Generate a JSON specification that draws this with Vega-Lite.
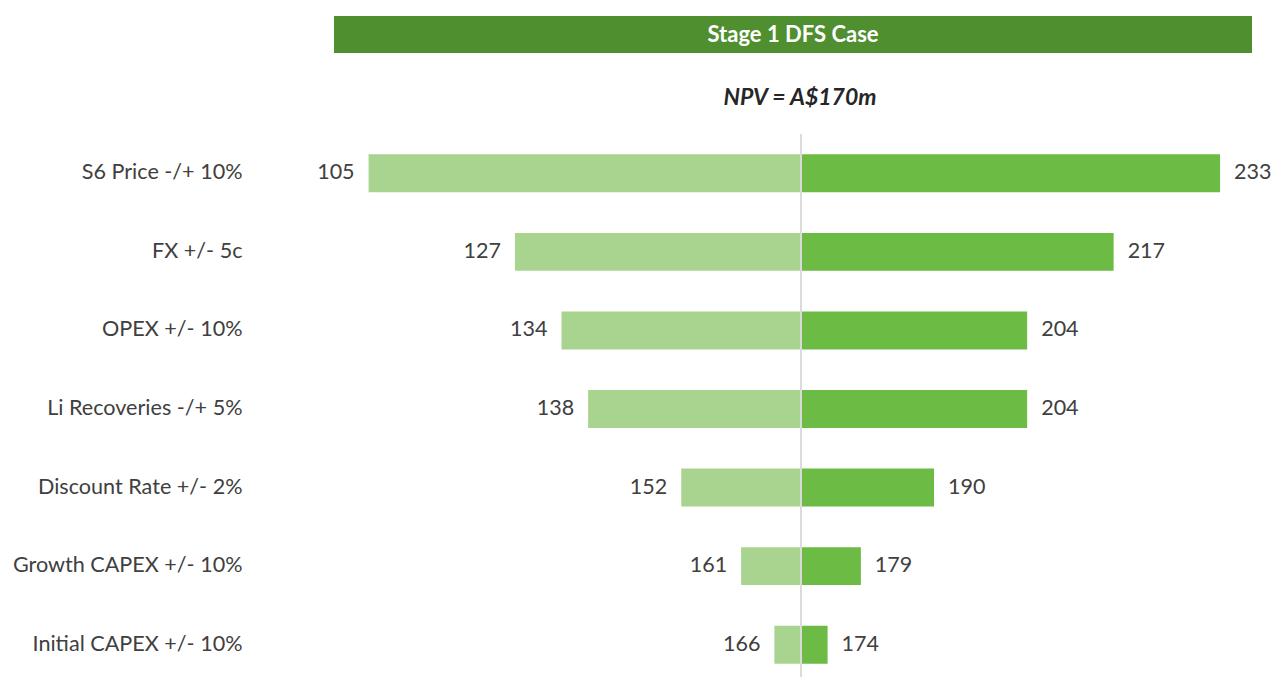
{
  "$schema": "https://vega.github.io/schema/vega-lite/v6.json",
  "background": "white",
  "padding": {"left": 12, "top": 16, "right": 0, "bottom": 0},
  "bounds": "flush",
  "spacing": 81,
  "config": {"view": {"stroke": null}, "font": "Lato"},
  "vconcat": [
    {
      "width": 918,
      "height": 37,
      "data": {"values": [{"title": "Stage 1 DFS Case"}]},
      "layer": [
        {"mark": {"type": "bar", "color": "#4f8f2f"}, "encoding": {}},
        {
          "mark": {"type": "text", "color": "white", "fontWeight": "bold", "fontSize": 22, "font": "Lato", "baseline": "middle", "align": "center"},
          "encoding": {"text": {"field": "title"}}
        }
      ]
    },
    {
      "width": 918,
      "height": 550,
      "title": {"text": "NPV = A$170m", "fontStyle": "italic", "fontWeight": "bold", "fontSize": 23, "font": "Lato", "color": "#262626", "anchor": "middle", "offset": 24, "dx": 7},
      "data": {"values": [
        {"factor": "S6 Price -/+ 10%", "low": 105, "high": 233, "base": 170},
        {"factor": "FX +/- 5c", "low": 127, "high": 217, "base": 170},
        {"factor": "OPEX +/- 10%", "low": 134, "high": 204, "base": 170},
        {"factor": "Li Recoveries -/+ 5%", "low": 138, "high": 204, "base": 170},
        {"factor": "Discount Rate +/- 2%", "low": 152, "high": 190, "base": 170},
        {"factor": "Growth CAPEX +/- 10%", "low": 161, "high": 179, "base": 170},
        {"factor": "Initial CAPEX +/- 10%", "low": 166, "high": 174, "base": 170}
      ]},
      "layer": [
        {
          "mark": {"type": "bar", "color": "#a9d48f"},
          "encoding": {
            "y": {
              "field": "factor", "type": "nominal", "sort": null,
              "scale": {"paddingInner": 0.517, "paddingOuter": 0.2585},
              "axis": {"title": null, "domain": false, "ticks": false, "labelPadding": 92, "labelFontSize": 21.6, "labelFont": "Lato", "labelColor": "#404040", "labelLimit": 0}
            },
            "x": {"field": "low", "type": "quantitative", "scale": {"domain": [99.8, 237.8], "zero": false, "nice": false}, "axis": null},
            "x2": {"field": "base"}
          }
        },
        {
          "mark": {"type": "bar", "color": "#6cbb45"},
          "encoding": {
            "y": {"field": "factor", "type": "nominal", "sort": null},
            "x": {"field": "base", "type": "quantitative"},
            "x2": {"field": "high"}
          }
        },
        {
          "mark": {"type": "rule", "color": "#dcdcdc", "strokeWidth": 1},
          "encoding": {"x": {"datum": 170, "type": "quantitative"}}
        },
        {
          "mark": {"type": "text", "align": "right", "dx": -14, "fontSize": 21.5, "font": "Lato", "color": "#404040", "baseline": "middle"},
          "encoding": {
            "y": {"field": "factor", "type": "nominal", "sort": null},
            "x": {"field": "low", "type": "quantitative"},
            "text": {"field": "low"}
          }
        },
        {
          "mark": {"type": "text", "align": "left", "dx": 14, "fontSize": 21.5, "font": "Lato", "color": "#404040", "baseline": "middle"},
          "encoding": {
            "y": {"field": "factor", "type": "nominal", "sort": null},
            "x": {"field": "high", "type": "quantitative"},
            "text": {"field": "high"}
          }
        }
      ]
    }
  ]
}
